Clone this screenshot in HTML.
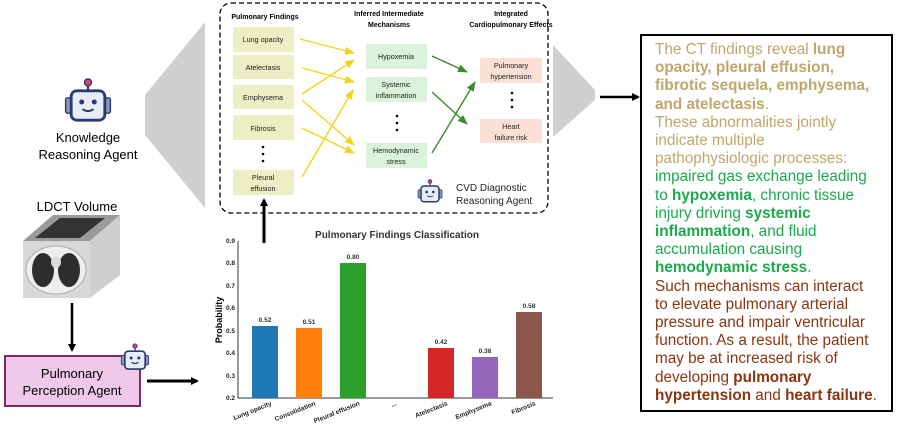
<!DOCTYPE html>
<html><head><meta charset="utf-8"><style>
body{margin:0;background:#fff;}
svg text{font-family:"Liberation Sans",sans-serif;}
.tx{position:absolute;left:655px;top:41px;width:235px;font-family:"Liberation Sans",sans-serif;font-size:15.3px;line-height:18.2px;white-space:nowrap;}
</style></head><body>
<div style="position:relative;width:897px;height:434px;overflow:hidden">
<svg width="897" height="434" style="position:absolute;left:0;top:0">
<defs>
<marker id="ab" markerWidth="8" markerHeight="8" refX="6" refY="4" orient="auto" markerUnits="userSpaceOnUse"><path d="M0,0 L8,4 L0,8 z" fill="#000"/></marker>
<marker id="ay" markerWidth="10" markerHeight="8" refX="9" refY="4" orient="auto" markerUnits="userSpaceOnUse"><path d="M0,0 L10,4 L0,8 z" fill="#f2d41c"/></marker>
<marker id="ag" markerWidth="10" markerHeight="8" refX="9" refY="4" orient="auto" markerUnits="userSpaceOnUse"><path d="M0,0 L10,4 L0,8 z" fill="#3b8a2c"/></marker>
<g id="robot">
<line x1="0" y1="-13" x2="0" y2="-8" stroke="#2a3a6a" stroke-width="1.5"/>
<circle cx="0" cy="-14" r="2.5" fill="#e0406a" stroke="#2a3a6a"/>
<rect x="-16" y="-3" width="4" height="11" rx="1.5" fill="#8a96b8" stroke="#2a3a6a"/>
<rect x="12" y="-3" width="4" height="11" rx="1.5" fill="#8a96b8" stroke="#2a3a6a"/>
<rect x="-12" y="-8" width="24" height="21" rx="4" fill="#e6ecf8" stroke="#2a3a6a" stroke-width="2"/>
<circle cx="-4.5" cy="0" r="1.8" fill="#2a3a6a"/><circle cx="4.5" cy="0" r="1.8" fill="#2a3a6a"/>
<path d="M-4,5 Q0,8 4,5" stroke="#2a3a6a" fill="none" stroke-width="1.4"/>
</g>
</defs>
<polygon points="145,95 205,22 205,208 145,135" fill="#cfcfcf"/>
<polygon points="553,45 595,90 595,100 553,137" fill="#cfcfcf"/>
<line x1="600" y1="97" x2="638" y2="97" stroke="#000" stroke-width="2.5" marker-end="url(#ab)"/>
<rect x="220" y="3" width="328" height="210" rx="11" fill="#fff" stroke="#000" stroke-width="1.3" stroke-dasharray="5,3"/>
<g font-size="7" font-weight="bold" text-anchor="middle">
<text x="265" y="19">Pulmonary Findings</text>
<text x="389" y="16">Inferred Intermediate</text><text x="389" y="27">Mechanisms</text>
<text x="511" y="16">Integrated</text><text x="511" y="27">Cardiopulmonary Effects</text>
</g>
<g fill="#eeeec4">
<rect x="233" y="27" width="61" height="25"/><rect x="233" y="55" width="61" height="24"/>
<rect x="233" y="85" width="61" height="24"/><rect x="233" y="115" width="61" height="25"/>
<rect x="233" y="170" width="61" height="25"/>
</g>
<g fill="#dbf3da"><rect x="366" y="44" width="61" height="25"/><rect x="366" y="77" width="61" height="25"/><rect x="366" y="143" width="61" height="25"/></g>
<g fill="#fbe0d6"><rect x="480" y="58" width="62" height="25"/><rect x="480" y="119" width="62" height="24"/></g>
<g font-size="7.2" text-anchor="middle" fill="#222">
<text x="263" y="42">Lung opacity</text><text x="263" y="70">Atelectasis</text><text x="263" y="100">Emphysema</text><text x="263" y="131">Fibrosis</text>
<text x="263" y="180">Pleural</text><text x="263" y="191">effusion</text>
<text x="396" y="59">Hypoxemia</text><text x="396" y="87">Systemic</text><text x="396" y="98">inflammation</text>
<text x="396" y="153">Hemodynamic</text><text x="396" y="164">stress</text>
<text x="511" y="68">Pulmonary</text><text x="511" y="79">hypertension</text>
<text x="511" y="129">Heart</text><text x="511" y="140">failure risk</text>
</g>
<g fill="#000"><circle cx="263" cy="147" r="1.3"/><circle cx="263" cy="154" r="1.3"/><circle cx="263" cy="161" r="1.3"/>
<circle cx="397" cy="116" r="1.3"/><circle cx="397" cy="123" r="1.3"/><circle cx="397" cy="130" r="1.3"/>
<circle cx="512" cy="93" r="1.3"/><circle cx="512" cy="100" r="1.3"/><circle cx="512" cy="107" r="1.3"/></g>
<g stroke="#f2d41c" stroke-width="1.4" marker-end="url(#ay)">
<line x1="300" y1="39" x2="354" y2="53"/><line x1="302" y1="68" x2="354" y2="82"/>
<line x1="302" y1="94" x2="354" y2="60"/><line x1="302" y1="100" x2="354" y2="145"/>
<line x1="302" y1="128" x2="354" y2="153"/><line x1="302" y1="177" x2="353" y2="90"/>
</g>
<g stroke="#3b8a2c" stroke-width="1.4" marker-end="url(#ag)">
<line x1="432" y1="56" x2="467" y2="72"/><line x1="432" y1="92" x2="467" y2="124"/><line x1="432" y1="153" x2="475" y2="82"/>
</g>
<use href="#robot" transform="translate(430,192) scale(0.75)"/>
<text x="456" y="191" font-size="10" fill="#222">CVD Diagnostic</text>
<text x="456" y="204" font-size="10" fill="#222">Reasoning Agent</text>
<line x1="264" y1="243" x2="264" y2="200" stroke="#000" stroke-width="3" marker-end="url(#ab)"/>
<use href="#robot" transform="translate(88,102) scale(1.4)"/>
<text x="88" y="142" font-size="13" text-anchor="middle">Knowledge</text>
<text x="88" y="159" font-size="13" text-anchor="middle">Reasoning Agent</text>
<text x="77" y="211" font-size="13" text-anchor="middle">LDCT Volume</text>
<polygon points="23,241 90,241 120,215 53,215" fill="#9a9a9a"/>
<polygon points="35,238 80,238 105,218 60,218" fill="#333"/>
<polygon points="90,241 120,215 120,275 90,298" fill="#cfcfcf"/>
<rect x="23" y="241" width="67" height="57" fill="#d8d8d8"/>
<ellipse cx="56" cy="270" rx="30" ry="24" fill="#eee" stroke="#aaa"/>
<ellipse cx="43" cy="270" rx="11" ry="17" fill="#2e2e2e"/><ellipse cx="69" cy="270" rx="11" ry="17" fill="#2e2e2e"/>
<ellipse cx="56" cy="262" rx="5" ry="6" fill="#ddd"/>
<line x1="72" y1="303" x2="72" y2="350" stroke="#000" stroke-width="2.5" marker-end="url(#ab)"/>
<rect x="5" y="356" width="135" height="50" fill="#f0c8ea" stroke="#7b2a6b" stroke-width="2"/>
<text x="72" y="378" font-size="13" text-anchor="middle">Pulmonary</text>
<text x="72" y="395" font-size="13" text-anchor="middle">Perception Agent</text>
<use href="#robot" transform="translate(135,358) scale(0.85)"/>
<line x1="147" y1="381" x2="197" y2="381" stroke="#000" stroke-width="3" marker-end="url(#ab)"/>
<text x="397" y="238" font-size="10" font-weight="bold" text-anchor="middle" fill="#333">Pulmonary Findings Classification</text>
<line x1="238" y1="241" x2="238" y2="398" stroke="#333" stroke-width="1"/>
<line x1="238" y1="398" x2="553" y2="398" stroke="#333" stroke-width="1"/>
<g font-size="6.5" font-weight="bold" text-anchor="end" fill="#222">
<text x="235" y="243">0.9</text><text x="235" y="265">0.8</text><text x="235" y="288">0.7</text><text x="235" y="310">0.6</text>
<text x="235" y="333">0.5</text><text x="235" y="355">0.4</text><text x="235" y="378">0.3</text><text x="235" y="400">0.2</text>
</g>
<text transform="translate(222,320) rotate(-90)" font-size="9" font-weight="bold" text-anchor="middle">Probability</text>
<rect x="252" y="326" width="26" height="72" fill="#1f77b4"/>
<rect x="296" y="328" width="26" height="70" fill="#ff7f0e"/>
<rect x="340" y="263" width="26" height="135" fill="#2ca02c"/>
<rect x="428" y="348" width="26" height="50" fill="#d62728"/>
<rect x="472" y="357" width="26" height="41" fill="#9467bd"/>
<rect x="516" y="312" width="26" height="86" fill="#8c564b"/>
<g font-size="6.5" font-weight="bold" text-anchor="middle" fill="#333">
<text x="265" y="322">0.52</text><text x="309" y="324">0.51</text><text x="353" y="259">0.80</text>
<text x="441" y="344">0.42</text><text x="485" y="353">0.38</text><text x="529" y="308">0.58</text>
</g>
<g font-size="6.5" font-weight="bold" text-anchor="end" fill="#222">
<text transform="translate(272,405) rotate(-22)">Lung opacity</text>
<text transform="translate(316,405) rotate(-22)">Consolidation</text>
<text transform="translate(360,405) rotate(-22)">Pleural effusion</text>
<text transform="translate(397,405) rotate(-22)">...</text>
<text transform="translate(448,405) rotate(-22)">Atelectasis</text>
<text transform="translate(492,405) rotate(-22)">Emphysema</text>
<text transform="translate(536,405) rotate(-22)">Fibrosis</text>
</g>
<rect x="641" y="35" width="251" height="376" fill="none" stroke="#000" stroke-width="2"/>
</svg>
<div class="tx">
<span style="color:#c2a56a">The CT findings reveal <b>lung</b><br><b>opacity, pleural effusion,</b><br><b>fibrotic sequela, emphysema,</b><br><b>and atelectasis</b>.<br>These abnormalities jointly<br>indicate multiple<br>pathophysiologic processes:</span><br>
<span style="color:#1aaa4a">impaired gas exchange leading<br>to <b>hypoxemia</b>, chronic tissue<br>injury driving <b>systemic</b><br><b>inflammation</b>, and fluid<br>accumulation causing<br><b>hemodynamic stress</b>.</span><br>
<span style="color:#8a3510">Such mechanisms can interact<br>to elevate pulmonary arterial<br>pressure and impair ventricular<br>function. As a result, the patient<br>may be at increased risk of<br>developing <b>pulmonary</b><br><b>hypertension</b> and <b>heart failure</b>.</span>
</div>
</div>
</body></html>
